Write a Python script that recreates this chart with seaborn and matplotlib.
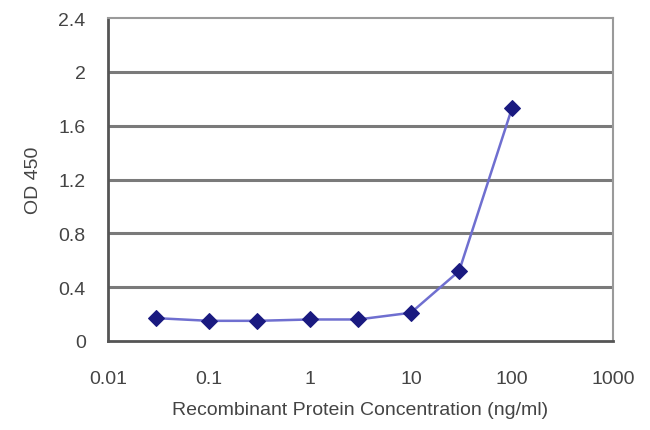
import matplotlib
matplotlib.use("Agg")
import matplotlib.pyplot as plt
import seaborn as sns
import pandas as pd

# concentration (ng/ml) and OD 450 readings
conc = [0.03, 0.1, 0.3, 1, 3, 10, 30, 100]
od450 = [0.17, 0.15, 0.15, 0.16, 0.16, 0.21, 0.52, 1.73]
xticks = [0.01, 0.1, 1, 10, 100, 1000]
xlabels = ["0.01", "0.1", "1", "10", "100", "1000"]
yticks = [0, 0.4, 0.8, 1.2, 1.6, 2, 2.4]
ylabels = ["0", "0.4", "0.8", "1.2", "1.6", "2", "2.4"]

df = pd.DataFrame({"conc": conc, "od": od450})

sns.set_style("white")
plt.rcParams["font.family"] = ["Liberation Sans", "DejaVu Sans"]

fig = plt.figure(figsize=(6.5, 4.31), dpi=100)
ax = fig.add_axes([0.166, 0.2065, 0.777, 0.749])

# gridlines
for t in yticks[1:-1]:
    ax.axhline(t, color="#7a7a7a", lw=2.2, zorder=1)

sns.lineplot(data=df, x="conc", y="od", ax=ax, color="#6f6fd0", lw=1.8,
             marker="D", markersize=8, markerfacecolor="#1a1a80",
             markeredgecolor="#1a1a80", zorder=3)

ax.set_xscale("log")
ax.set_xlim(0.01, 1000)
ax.set_ylim(0, 2.4)
ax.set_xticks(xticks)
ax.set_xticklabels(xlabels)
ax.minorticks_off()
ax.set_yticks(yticks)
ax.set_yticklabels(ylabels)
txt = "#444444"
ax.tick_params(axis="x", direction="in", length=4, width=1.2, color="#555555",
               pad=21, labelsize=14, labelcolor=txt)
ax.tick_params(axis="y", length=0, pad=16, labelsize=14, labelcolor=txt)

for side in ["left", "bottom"]:
    ax.spines[side].set_color("#555555")
    ax.spines[side].set_linewidth(2)
for side in ["top", "right"]:
    ax.spines[side].set_color("#9a9a9a")
    ax.spines[side].set_linewidth(1.5)

ax.set_xlabel("Recombinant Protein Concentration (ng/ml)", fontsize=14,
              color=txt, labelpad=10)
ax.set_ylabel("OD 450", fontsize=14, color=txt, labelpad=12)

fig.savefig("out.png", dpi=100)
